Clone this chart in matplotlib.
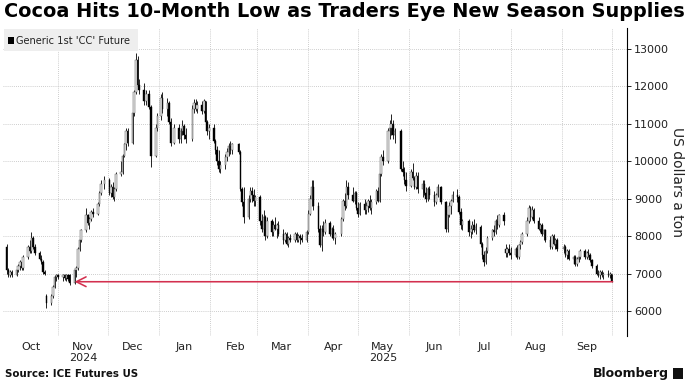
import matplotlib
matplotlib.use("Agg")
import matplotlib.pyplot as plt
import matplotlib.dates as mdates
from matplotlib.patches import Rectangle
import pandas as pd
import numpy as np

# ---------------- data ----------------
holidays = ["2024-11-28", "2024-12-25", "2025-01-01", "2025-01-09", "2025-01-20",
            "2025-02-17", "2025-04-18", "2025-05-26", "2025-06-19", "2025-07-04",
            "2025-09-01"]
start_date = "2024-10-01"
end_date = "2025-10-01"

opens = [
    # Oct 2024
    7700, 7100, 6950, 7050, 6950, 7100, 7200, 7300, 7150, 7450, 7700, 7600, 7950, 7700,
    7550, 7400, 7300, 7050, 6400, 6200, 6400, 6650, 6900,
    # Nov
    6950, 6900, 6950, 6880, 6950, 6950, 6750, 7100, 7150, 7650, 7900, 8150, 8550, 8350,
    8450, 8650, 8600, 8850, 9150, 9400,
    # Dec
    9500, 9150, 9300, 9050, 9250, 9650, 9700, 10150, 10450, 10800, 10500, 11300, 11850,
    12700, 12050, 11900, 11600, 11800, 11450, 10150, 10900,
    # Jan 2025
    11200, 11700, 11400, 11550, 11050, 10500, 10900, 10600, 10800, 10950, 10700, 10600,
    11400, 11550, 11400, 11500, 11350, 11600, 11050, 10800,
    # Feb
    10900, 10550, 10300, 10000, 9800, 9900, 10100, 10250, 10400, 10300, 10450, 10250,
    9250, 8900, 8500, 9000, 9200, 9100, 8950,
    # Mar
    9050, 8400, 8200, 8500, 8000, 8400, 8100, 8300, 8200, 8300, 8050, 7900, 8050, 7800,
    7950, 7900, 8050, 7900, 8000, 7950, 7900,
    # Apr
    8100, 8600, 9000, 9300, 8800, 8200, 7750, 8200, 8100, 8350, 8050, 8200, 7950, 8050,
    8450, 8950, 8800, 9300, 9100, 8950, 9150,
    # May
    8750, 8600, 8850, 8700, 8800, 8950, 8750, 8900, 9200, 8950, 9650, 10100, 10000,
    10800, 10900, 11000, 10700, 10800, 9800, 9700, 9500,
    # Jun
    9350, 9700, 9550, 9300, 9600, 9250, 9400, 9150, 9000, 9250, 9100, 8900, 9100, 9300,
    8900, 8200, 8550, 8800, 8950, 9100,
    # Jul
    9050, 8650, 8300, 8400, 8100, 8200, 8300, 8150, 8250, 7800, 7500, 7300, 7600, 7950,
    8150, 8100, 8400, 8300, 8550, 7650, 7550, 7650,
    # Aug
    7550, 7500, 7650, 7450, 7750, 7850, 8050, 8400, 8750, 8500, 8700, 8400, 8200, 8300,
    8050, 8150, 7900, 7700, 8000, 7800, 7900,
    # Sep
    7650, 7700, 7500, 7600, 7400, 7450, 7250, 7400, 7450, 7600, 7450, 7550, 7500, 7350,
    7200, 7000, 6950, 7050, 6950, 7000, 6950,
    # Oct 2025
    7000,
]
highs = [
    7800, 7150, 7100, 7100, 7150, 7250, 7350, 7350, 7500, 7750, 7900, 8100, 8000, 7800,
    7600, 7500, 7350, 7100, 6450, 6450, 6700, 6950, 7000,
    7000, 7000, 7000, 6980, 7000, 7000, 7150, 7200, 7700, 8000, 8200, 8750, 8600, 8500,
    8700, 8750, 8900, 9200, 9500, 9600,
    9550, 9400, 9450, 9300, 9700, 10000, 10200, 10500, 10900, 10900, 11400, 11900, 12900,
    12800, 12200, 12100, 11900, 11900, 11500, 11000, 11300,
    11800, 11850, 11700, 11600, 11150, 11000, 11000, 10900, 11100, 11000, 10900, 11500,
    11650, 11650, 11600, 11600, 11650, 11600, 11100, 11000,
    11000, 10600, 10400, 10300, 10000, 10200, 10350, 10500, 10550, 10500, 10500, 10300,
    9300, 9300, 9100, 9300, 9300, 9250, 9100,
    9100, 8600, 8700, 8550, 8500, 8450, 8400, 8500, 8350, 8400, 8200, 8100, 8100, 8000,
    8050, 8100, 8100, 8050, 8050, 8050, 8150,
    8700, 9100, 9500, 9500, 8900, 8300, 8300, 8400, 8450, 8400, 8250, 8300, 8100, 8500,
    9000, 9150, 9500, 9450, 9300, 9200, 9200,
    8900, 8900, 9000, 8900, 9000, 9100, 9000, 9250, 9300, 9700, 10200, 10300, 10900,
    11100, 11250, 11100, 10900, 10850, 10000, 9850, 9700,
    9800, 9950, 9600, 9700, 9700, 9500, 9500, 9300, 9300, 9350, 9200, 9150, 9400, 9350,
    8950, 8650, 8900, 9000, 9200, 9250,
    9100, 8750, 8450, 8450, 8300, 8400, 8450, 8350, 8300, 7850, 7600, 7700, 8000, 8200,
    8300, 8450, 8550, 8600, 8650, 7800, 7700, 7800,
    7700, 7700, 7750, 7800, 7900, 8100, 8500, 8830, 8800, 8800, 8750, 8500, 8350, 8350,
    8200, 8200, 8000, 8050, 8050, 7950, 7950,
    7800, 7750, 7650, 7650, 7500, 7500, 7450, 7500, 7650, 7650, 7600, 7650, 7550, 7400,
    7250, 7100, 7100, 7100, 7050, 7100, 7050,
    7000,
]
lows = [
    7000, 6900, 6900, 6900, 6920, 7050, 7100, 7100, 7100, 7400, 7550, 7550, 7650, 7500,
    7350, 7250, 7000, 6950, 6080, 6150, 6350, 6600, 6800,
    6850, 6800, 6820, 6800, 6800, 6700, 6720, 6900, 7100, 7600, 7850, 8100, 8300, 8200,
    8400, 8500, 8550, 8800, 9100, 9250,
    9100, 9050, 9000, 8950, 9200, 9600, 9650, 10100, 10300, 10400, 10450, 11200, 11800,
    12000, 11800, 11500, 11500, 11400, 9850, 10100, 10800,
    11100, 11300, 11200, 11000, 10400, 10450, 10500, 10500, 10700, 10600, 10500, 10550,
    11300, 11350, 11300, 11250, 11300, 11000, 10700, 10600,
    10500, 10200, 9900, 9700, 9680, 9800, 10000, 10150, 10200, 10200, 10200, 9200,
    8800, 8350, 8450, 8900, 8900, 8800, 8800,
    8300, 8100, 8150, 7900, 7950, 8000, 8000, 8150, 7950, 8000, 7800, 7850, 7750, 7700,
    7850, 7850, 7850, 7850, 7800, 7850, 7850,
    8050, 8550, 8800, 8700, 8100, 7700, 7600, 8000, 8050, 8000, 7950, 7900, 7800, 8000,
    8400, 8700, 8750, 9000, 8900, 8850, 8700,
    8500, 8550, 8600, 8600, 8650, 8700, 8600, 8850, 8900, 8900, 9600, 9900, 9950,
    10600, 10700, 10600, 10500, 9750, 9600, 9400, 9200,
    9300, 9500, 9250, 9250, 9150, 9050, 9100, 8900, 8950, 9000, 8800, 8850, 9050, 8850,
    8100, 8100, 8500, 8600, 8900, 8900,
    8600, 8200, 8150, 8000, 7950, 8050, 8100, 8050, 7700, 7400, 7200, 7250, 7550, 7900,
    8000, 8050, 8200, 8250, 8300, 7450, 7450, 7500,
    7400, 7450, 7400, 7400, 7650, 7800, 8000, 8350, 8400, 8450, 8350, 8150, 8100, 8000,
    7900, 7850, 7650, 7650, 7750, 7650, 7600,
    7550, 7450, 7400, 7350, 7250, 7200, 7200, 7300, 7400, 7400, 7400, 7450, 7300, 7150,
    6950, 6900, 6850, 6900, 6850, 6900, 6880,
    6780,
]
closes = [
    7100, 6950, 7050, 6950, 7100, 7200, 7300, 7150, 7450, 7700, 7600, 7950, 7700, 7550,
    7400, 7300, 7050, 7000, 6200, 6400, 6650, 6900, 6950,
    6900, 6950, 6880, 6950, 6850, 6750, 7100, 7150, 7650, 7900, 8150, 8550, 8350, 8450,
    8650, 8600, 8850, 9150, 9400, 9500,
    9150, 9300, 9050, 9250, 9650, 9700, 10150, 10450, 10800, 10500, 11300, 11850, 12700,
    12050, 11900, 11600, 11800, 11450, 10150, 10900, 11200,
    11700, 11400, 11550, 11050, 10500, 10900, 10600, 10800, 10950, 10700, 10600, 11400,
    11550, 11400, 11500, 11350, 11600, 11050, 10800, 10900,
    10550, 10300, 10000, 9800, 9900, 10100, 10250, 10400, 10300, 10450, 10250, 9250,
    8900, 8500, 9000, 9200, 9100, 8950, 9050,
    8400, 8200, 8500, 8000, 8400, 8100, 8300, 8200, 8300, 8050, 7900, 8050, 7800, 7950,
    7900, 8050, 7900, 8000, 7950, 7900, 8100,
    8600, 9000, 9300, 8800, 8200, 7750, 8200, 8100, 8350, 8050, 8200, 7950, 8050, 8450,
    8950, 8800, 9300, 9100, 8950, 9150, 8750,
    8600, 8850, 8700, 8800, 8950, 8750, 8900, 9200, 8950, 9650, 10100, 10000, 10800,
    10900, 11000, 10700, 10800, 9800, 9700, 9500, 9350,
    9700, 9550, 9300, 9600, 9250, 9400, 9150, 9000, 9250, 9100, 8900, 9100, 9300, 8900,
    8200, 8550, 8800, 8950, 9100, 9050,
    8650, 8300, 8400, 8100, 8200, 8300, 8150, 8250, 7800, 7500, 7300, 7600, 7950, 8150,
    8100, 8400, 8300, 8550, 8400, 7550, 7650, 7550,
    7500, 7650, 7450, 7750, 7850, 8050, 8400, 8750, 8500, 8700, 8400, 8200, 8300, 8050,
    8150, 7900, 7700, 8000, 7800, 7900, 7650,
    7700, 7500, 7600, 7400, 7450, 7250, 7400, 7450, 7600, 7450, 7550, 7500, 7350, 7200,
    7000, 6950, 7050, 6950, 7000, 6950, 7000,
    6800,
]
low_marker_date = "2024-11-11"
low_marker_price = 6780

month_labels = ["Oct", "Nov\n2024", "Dec", "Jan", "Feb", "Mar", "Apr", "May\n2025",
                "Jun", "Jul", "Aug", "Sep"]
y_ticks = [6000, 7000, 8000, 9000, 10000, 11000, 12000, 13000]

# ---------------- figure ----------------
W, H = 693, 386
fig = plt.figure(figsize=(W / 100, H / 100), dpi=100)
fig.patch.set_facecolor("white")

def fx(px):
    return px / W

def fy(py):
    return 1 - py / H

ax_l, ax_r, ax_t, ax_b = 3, 627, 28, 336
ax = fig.add_axes([fx(ax_l), fy(ax_b), fx(ax_r - ax_l), (ax_b - ax_t) / H])

dates = pd.bdate_range(start_date, end_date)
dates = dates[~dates.isin(pd.to_datetime(holidays))]
xd = mdates.date2num(dates.to_pydatetime())

o = np.array(opens, float)
h = np.array(highs, float)
l = np.array(lows, float)
c = np.array(closes, float)

ax.vlines(xd, l, h, color="black", linewidth=0.6, zorder=2)
up = c >= o
body_w = 0.9
heights = np.where(np.abs(c - o) < 20, 20, c - o)
ax.bar(xd[~up], heights[~up], bottom=o[~up], width=body_w, color="black",
       edgecolor="black", linewidth=0.3, zorder=3)
ax.bar(xd[up], heights[up], bottom=o[up], width=body_w, color="#e8e8e8",
       edgecolor="#555555", linewidth=0.35, zorder=3)

# red arrow to previous low
ax.annotate("", xy=(mdates.datestr2num(low_marker_date), low_marker_price),
            xytext=(xd[-1] + 0.6, low_marker_price),
            arrowprops=dict(arrowstyle="->,head_length=0.7,head_width=0.35",
                            color="#d3304f", lw=1.15, shrinkA=0, shrinkB=0),
            zorder=4)

# axes limits
ax.set_xlim(mdates.datestr2num("2024-09-28 20:00"), mdates.datestr2num("2025-10-10 06:00"))
ax.set_ylim(5330, 13560)

# spines
for s in ["top", "left", "bottom"]:
    ax.spines[s].set_visible(False)
ax.spines["right"].set_color("black")
ax.spines["right"].set_linewidth(0.8)

# y axis on right
ax.yaxis.tick_right()
ax.set_yticks(y_ticks)
ax.set_yticklabels([str(v) for v in y_ticks])
ax.tick_params(axis="y", length=3, width=0.6, pad=2, labelsize=8, labelcolor="#222222",
               color="black")
ax.yaxis.set_label_position("right")
ax.set_ylabel("US dollars a ton", rotation=270, fontsize=10, color="#222222", labelpad=11)

# x axis: gridlines at month starts, labels at mid-month
month_starts = pd.date_range("2024-11-01", "2025-10-01", freq="MS")
mids = pd.date_range("2024-10-01", "2025-09-01", freq="MS") + pd.Timedelta(days=15)
ax.set_xticks(mdates.date2num(mids.to_pydatetime()))
ax.set_xticklabels(month_labels)
ax.set_xticks(mdates.date2num(month_starts.to_pydatetime()), minor=True)
ax.tick_params(axis="x", which="both", length=0, pad=4, labelsize=8, labelcolor="#222222")

ax.grid(True, axis="y", which="major", linestyle=(0, (1, 1.5)), color="#bdbdbd", linewidth=0.6)
ax.grid(True, axis="x", which="minor", linestyle=(0, (1, 1.5)), color="#bdbdbd", linewidth=0.6)
ax.grid(False, axis="x", which="major")
ax.set_axisbelow(True)

# legend box
fig.patches.append(Rectangle((fx(4), fy(51)), fx(134), (51 - 29) / H, transform=fig.transFigure,
                             facecolor="#eeeeee", edgecolor="none", zorder=5))
fig.patches.append(Rectangle((fx(8), fy(43.5)), fx(6), 6 / H, transform=fig.transFigure,
                             facecolor="black", edgecolor="none", zorder=6))
fig.text(fx(16), fy(40.5), "Generic 1st 'CC' Future", fontsize=7.1, color="#222222",
         va="center", ha="left", zorder=7)

# title
fig.text(fx(4), fy(11.5), "Cocoa Hits 10-Month Low as Traders Eye New Season Supplies",
         fontsize=13.85, fontweight="bold", color="black", va="center", ha="left")

# footer
fig.text(fx(5), fy(374), "Source: ICE Futures US", fontsize=7.4, fontweight="bold",
         color="#111111", va="center", ha="left")
fig.text(fx(669), fy(373), "Bloomberg", fontsize=9, fontweight="bold",
         color="#111111", va="center", ha="right")
fig.patches.append(Rectangle((fx(673), fy(379)), fx(10), 11 / H, transform=fig.transFigure,
                             facecolor="#111111", edgecolor="none"))

fig.savefig("out.png", dpi=100)
